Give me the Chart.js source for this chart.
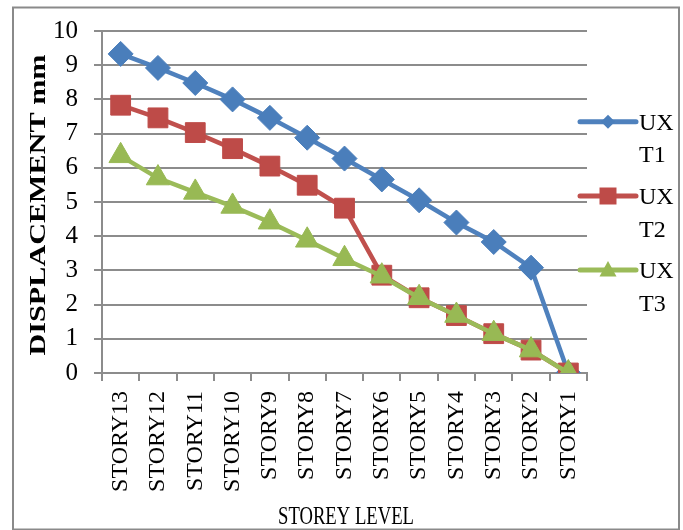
<!DOCTYPE html>
<html>
<head>
<meta charset="utf-8">
<script src="https://cdn.jsdelivr.net/npm/chart.js@4.4.1/dist/chart.umd.min.js"></script>
<style>
html,body{margin:0;padding:0;background:#fff;}
#wrap{width:683px;height:530px;position:relative;}
</style>
</head>
<body>
<div id="wrap"><canvas id="c" width="683" height="530"></canvas></div>
<script>
const categories = ['STORY13','STORY12','STORY11','STORY10','STORY9','STORY8','STORY7','STORY6','STORY5','STORY4','STORY3','STORY2','STORY1'];
const uxT1 = [9.33, 8.92, 8.48, 8.0, 7.46, 6.88, 6.27, 5.66, 5.05, 4.4, 3.83, 3.08, 0];
const uxT2 = [7.83, 7.46, 7.03, 6.56, 6.05, 5.49, 4.82, 2.86, 2.2, 1.68, 1.15, 0.67, 0];
const uxT3 = [6.35, 5.7, 5.28, 4.87, 4.41, 3.88, 3.34, 2.83, 2.2, 1.68, 1.15, 0.67, 0];
const seriesNames = [['UX','T1'], ['UX','T2'], ['UX','T3']];
const yTicks = [0,1,2,3,4,5,6,7,8,9,10];
const xTitle = 'STOREY LEVEL';
const yTitle = 'DISPLACEMENT mm';

const GRID = '#8c8c8c';
const SERIF = '"Liberation Serif", "Times New Roman", serif';

const decorPlugin = {
  id: 'decor',
  afterDraw(chart) {
    const ctx = chart.ctx;
    const area = chart.chartArea;
    ctx.save();
    // outer frame
    ctx.strokeStyle = '#8a8a8a';
    ctx.lineWidth = 2;
    ctx.strokeRect(13, 7.5, 666, 522);

    // y title
    ctx.fillStyle = '#000';
    ctx.font = 'bold 23px ' + SERIF;
    ctx.textAlign = 'center';
    ctx.textBaseline = 'middle';
    let w = ctx.measureText(yTitle).width;
    ctx.save();
    ctx.translate(39.5, (area.top + area.bottom) / 2 + 3);
    ctx.rotate(-Math.PI / 2);
    ctx.scale(301 / w, 1);
    ctx.fillText(yTitle, 0, 0);
    ctx.restore();

    // x title
    ctx.font = '26px ' + SERIF;
    ctx.textBaseline = 'alphabetic';
    w = ctx.measureText(xTitle).width;
    ctx.save();
    ctx.translate(346, 523.5);
    ctx.scale(136 / w, 1);
    ctx.fillText(xTitle, 0, 0);
    ctx.restore();

    // legend
    const lx0 = area.right - 7, lx1 = area.right + 49;
    const ys = [121.7, 196, 270];
    chart.data.datasets.forEach((ds, i) => {
      const y = ys[i];
      ctx.strokeStyle = ds.borderColor;
      ctx.lineWidth = 5;
      ctx.lineCap = 'round';
      ctx.beginPath();
      ctx.moveTo(lx0, y);
      ctx.lineTo(lx1, y);
      ctx.stroke();
      const cx = (lx0 + lx1) / 2;
      ctx.fillStyle = ds.pointBackgroundColor;
      ctx.beginPath();
      if (ds.pointStyle === 'rectRot') {
        ctx.moveTo(cx, y - 7); ctx.lineTo(cx + 7, y); ctx.lineTo(cx, y + 7); ctx.lineTo(cx - 7, y);
      } else if (ds.pointStyle === 'rect') {
        ctx.rect(cx - 8.5, y - 8.5, 17, 17);
      } else {
        ctx.moveTo(cx, y - 9); ctx.lineTo(cx + 8.5, y + 6.5); ctx.lineTo(cx - 8.5, y + 6.5);
      }
      ctx.closePath();
      ctx.fill();
      ctx.fillStyle = '#000';
      ctx.font = '24px ' + SERIF;
      ctx.textAlign = 'left';
      ctx.textBaseline = 'alphabetic';
      const lines = seriesNames[i];
      ctx.fillText(lines[0], lx1 + 3, y + 8);
      ctx.fillText(lines[1], lx1 + 3, y + 40.5);
    });
    ctx.restore();
  }
};

new Chart(document.getElementById('c'), {
  type: 'line',
  data: {
    labels: categories,
    datasets: [
      { label: 'UX T1', data: uxT1, order: 3, borderColor: '#4F81BD', backgroundColor: '#4A7EBB',
        pointBackgroundColor: '#4A7EBB', pointBorderColor: '#4A7EBB', pointStyle: 'rectRot',
        pointRadius: 12.5, pointBorderWidth: 1, borderWidth: 4.5, tension: 0 },
      { label: 'UX T2', data: uxT2, order: 2, borderColor: '#C0504D', backgroundColor: '#BE4B48',
        pointBackgroundColor: '#BE4B48', pointBorderColor: '#BE4B48', pointStyle: 'rect',
        pointRadius: 14, pointBorderWidth: 1, borderWidth: 4.5, tension: 0 },
      { label: 'UX T3', data: uxT3, order: 1, borderColor: '#9BBB59', backgroundColor: '#98B954',
        pointBackgroundColor: '#98B954', pointBorderColor: '#98B954', pointStyle: 'triangle',
        pointRadius: 13.5, pointBorderWidth: 1, borderWidth: 4.5, tension: 0 }
    ]
  },
  options: {
    responsive: false,
    animation: false,
    devicePixelRatio: 1,
    layout: { padding: { left: 0, top: 25, right: 96, bottom: 0 } },
    plugins: { legend: { display: false }, tooltip: { enabled: false } },
    scales: {
      x: {
        offset: true,
        grid: { display: true, drawOnChartArea: false, drawTicks: true, tickLength: 8, offset: true, color: GRID, lineWidth: 2 },
        border: { display: true, color: GRID, width: 2 },
        ticks: { autoSkip: false, minRotation: 90, maxRotation: 90, padding: 10, color: '#000',
                 font: { family: SERIF, size: 24 } },
        afterFit(scale) { scale.height = 157; }
      },
      y: {
        min: 0, max: 10,
        afterBuildTicks(scale) { scale.ticks = yTicks.map(v => ({ value: v })); },
        grid: { color: GRID, lineWidth: 2, drawTicks: true, tickLength: 8 },
        border: { display: true, color: GRID, width: 2 },
        ticks: { padding: 16, color: '#000', font: { family: SERIF, size: 25 } },
        afterFit(scale) { scale.width = 102; }
      }
    }
  },
  plugins: [decorPlugin]
});
</script>
</body>
</html>
